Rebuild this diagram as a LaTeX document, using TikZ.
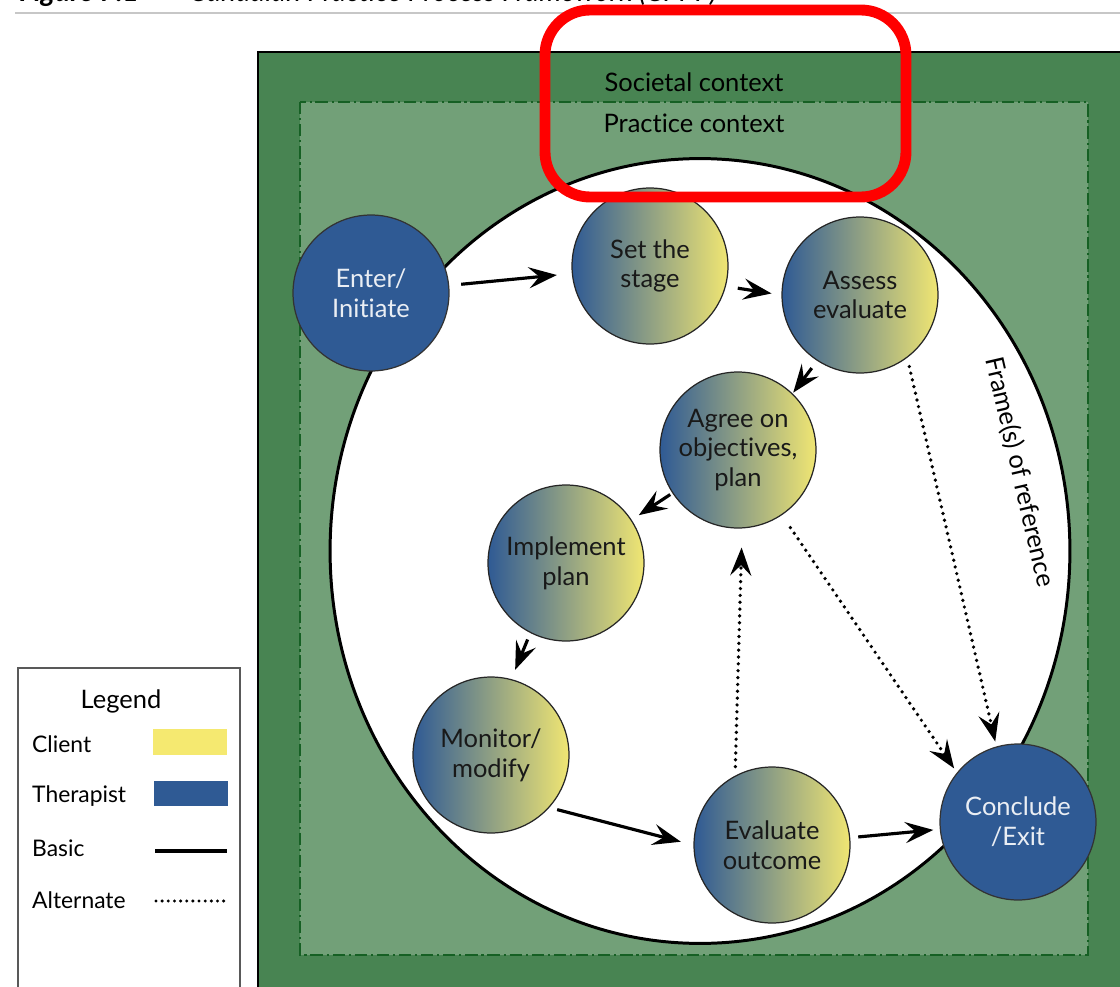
\documentclass[tikz,border=0pt]{standalone}
\usepackage{fontspec}
\setmainfont{Lato}[Ligatures=NoCommon]
\usetikzlibrary{arrows.meta}
\definecolor{societalgreen}{RGB}{72,132,82}
\definecolor{practicegreen}{RGB}{114,160,120}
\definecolor{dashgreen}{RGB}{22,96,36}
\definecolor{cppblue}{RGB}{47,90,148}
\definecolor{cppyellow}{RGB}{240,230,115}
\definecolor{keyyellow}{RGB}{245,233,112}

\begin{document}
\begin{tikzpicture}[x=0.02cm, y=-0.02cm,
    every node/.style={font=\fontsize{14.5}{17}\selectfont},
    shared/.style={circle, draw=black!85, line width=0.7pt, minimum size=3.12cm, inner sep=0pt, align=center, left color=cppblue, right color=cppyellow, text=black!90},
    therapist/.style={circle, draw=black!80, line width=0.7pt, minimum size=3.12cm, inner sep=0pt, align=center, fill=cppblue, text=white!90!cppblue},
    basic/.style={line width=1.8pt, -{Stealth[length=16pt, width=12pt, inset=6pt]}},
    alternate/.style={line width=2.1pt, line cap=round, dash pattern=on 0pt off 3.9pt, -{Stealth[length=16pt, width=12pt, inset=6pt]}},
    legenditem/.style={anchor=west, font=\fontsize{13}{15}\selectfont}]
  \useasboundingbox (0,0) rectangle (1120,987);
  % cut-off heading and rule
  \node[anchor=base west, inner sep=0pt, font=\fontsize{16}{19}\selectfont\bfseries\itshape] (titlenum) at (19,2) {Figure 7.1};
  \node[anchor=base west, inner sep=0pt, font=\fontsize{16}{19}\selectfont\itshape] (titletext) at (189,2) {Canadian Practice Process Framework (CPPF)};
  \draw[black!22, line width=0.9pt] (15,13) -- (1120,13);
  % contexts
  \fill[societalgreen] (258,52) rectangle (1130,1000);
  \draw[black, line width=1.2pt] (258,1000) -- (258,52) -- (1130,52);
  \filldraw[fill=practicegreen, draw=dashgreen, line width=1.5pt, dash pattern=on 7pt off 2.2pt on 1.2pt off 2.2pt] (300,102) rectangle (1088,955);
  \node (societal) at (694,82) {Societal context};
  \node (practice) at (694,123) {Practice context};
  % frame(s) of reference
  \filldraw[fill=white, draw=black, line width=1.7pt] (700,551) ellipse [x radius=7.4cm, y radius=7.85cm];
  \node[rotate=-77] (frame) at (1020,472) {Frame(s) of reference};
  % process
  \node[therapist] (enter) at (371,293) {Enter/\\Initiate};
  \node[shared] (stage) at (650,266) {Set the\\stage};
  \node[shared] (assess) at (860,295) {Assess\\evaluate};
  \node[shared] (agree) at (738,450) {Agree on\\objectives,\\plan};
  \node[shared] (implement) at (566,563) {Implement\\plan};
  \node[shared] (monitor) at (491,755) {Monitor/\\modify};
  \node[shared] (evaluate) at (772,845) {Evaluate\\outcome};
  \node[therapist] (conclude) at (1018,822) {Conclude\\/Exit};

  \draw[basic, shorten <=0.24cm, shorten >=0.3cm] (enter) -- (stage);
  \draw[basic, shorten <=0.24cm, shorten >=0.2cm] (stage.-15) -- (assess.180);
  \draw[basic, shorten <=0.18cm, shorten >=0.02cm] (assess.-123) -- (agree.46);
  \draw[basic, shorten <=0.05cm, shorten >=0.17cm] (agree) -- (implement);
  \draw[basic, shorten <=0.14cm, shorten >=0.2cm] (implement.-117) -- (monitor.75);
  \draw[basic, shorten <=0.16cm, shorten >=0.26cm] (monitor.-42) -- (evaluate.180);
  \draw[basic, shorten <=0.16cm, shorten >=0.13cm] (evaluate) -- (conclude);

  \draw[alternate, shorten <=0.18cm, shorten >=0.1cm] (assess.-53) -- (conclude.106);
  \draw[alternate, shorten <=0.3cm, shorten >=0.1cm] (agree.-56) -- (conclude.141);
  \draw[alternate, shorten <=0.18cm, shorten >=0.38cm] (evaluate.118) -- (agree.-87);

  % legend
  \filldraw[fill=white, draw=black!65, line width=0.8pt] (18,668) rectangle (240,1000);
  \node (legend) at (121,701) {Legend};
  \node[legenditem] (client) at (26,744) {Client};
  \node[legenditem] (therapistkey) at (26,796) {Therapist};
  \node[legenditem] (basickey) at (26,848) {Basic};
  \node[legenditem] (alternatekey) at (26,900) {Alternate};
  \node[fill=keyyellow, minimum width=1.48cm, minimum height=0.52cm, inner sep=0pt] (clientswatch) at (190,742) {};
  \node[fill=cppblue, minimum width=1.48cm, minimum height=0.5cm, inner sep=0pt] (therapistswatch) at (191,793) {};
  \draw[line width=1.8pt] (155,851) -- (227,851);
  \draw[line width=1.9pt, line cap=round, dash pattern=on 0pt off 3.5pt] (156,901) -- (227,901);
  % highlight
  \draw[red, line width=6.2pt, rounded corners=0.9cm] (545,10) rectangle (906,197);
\end{tikzpicture}
\end{document}
